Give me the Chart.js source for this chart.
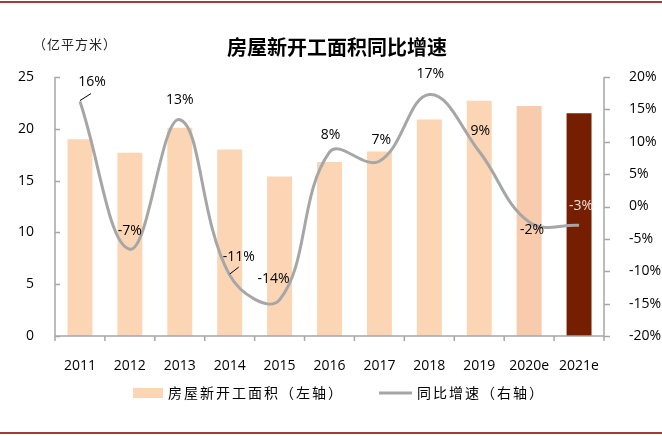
<!DOCTYPE html>
<html lang="zh">
<head>
<meta charset="UTF-8">
<title>房屋新开工面积同比增速</title>
<script src="https://cdn.jsdelivr.net/npm/chart.js"></script>
<style>
  body { margin: 0; background: #fff; }
  .wrap { width: 662px; height: 436px; position: relative; }
</style>
</head>
<body>
<div class="wrap"><canvas id="grafico"></canvas></div>
<script>
// dados
const categorias = ['2011', '2012', '2013', '2014', '2015', '2016', '2017', '2018', '2019', '2020e', '2021e'];
const areaNova = [19.0, 17.7, 20.1, 18.0, 15.4, 16.8, 17.8, 20.9, 22.7, 22.2, 21.5];   // 亿平方米
const crescimento = [16.2, -6.6, 13.4, -10.6, -14.4, 8.4, 7.0, 17.3, 8.5, -2.4, -2.9]; // %
const ticksEsq = [0, 5, 10, 15, 20, 25];
const ticksDir = [-20, -15, -10, -5, 0, 5, 10, 15, 20];

// estilo
const coresBarra = ['#FCD5B5', '#FCD5B5', '#FCD5B5', '#FCD5B5', '#FCD5B5', '#FCD5B5', '#FCD5B5', '#FCD5B5', '#FCD5B5', '#F8CBAD', '#751F00'];
const rotDx = [12, 0, 0, 9, -6, 1, 2, 1, 1, 3, 2];
const rotDy = [-20, -18, -20, -18, -21, -17, -21, -20, -20, 8, -19];
const corRot = ['#000', '#000', '#000', '#000', '#000', '#000', '#000', '#000', '#000', '#000', '#F2DDD8'];
const guias = { 0: [11, -7], 3: [9, -7] };
const cinzaEixo = '#A6A6A6';

Chart.defaults.font.family = "'Open Sans', sans-serif";
Chart.defaults.font.size = 14;
Chart.defaults.color = '#000';

const extras = {
  id: 'extras',
  beforeDraw(chart) {
    const ctx = chart.ctx;
    ctx.save();
    ctx.fillStyle = '#fff';
    ctx.fillRect(0, 0, chart.width, chart.height);
    ctx.fillStyle = '#9E3B3B';
    ctx.fillRect(0, 1, chart.width, 2);
    ctx.fillRect(0, 432, chart.width, 2);
    ctx.restore();
  },
  afterDraw(chart) {
    const ctx = chart.ctx;
    const a = chart.chartArea;
    const y = chart.scales.y, y1 = chart.scales.y1;
    ctx.save();
    // eixos
    ctx.strokeStyle = cinzaEixo;
    ctx.lineWidth = 1.5;
    ctx.beginPath();
    ctx.moveTo(a.left, a.top); ctx.lineTo(a.left, a.bottom);
    ctx.moveTo(a.right, a.top); ctx.lineTo(a.right, a.bottom);
    ctx.moveTo(a.left, a.bottom); ctx.lineTo(a.right, a.bottom);
    ticksEsq.forEach(v => {
      const py = Math.round(y.getPixelForValue(v)) + 0.5;
      ctx.moveTo(a.left, py); ctx.lineTo(a.left + 5, py);
    });
    ticksDir.forEach(v => {
      const py = Math.round(y1.getPixelForValue(v)) + 0.5;
      ctx.moveTo(a.right, py); ctx.lineTo(a.right + 6, py);
    });
    const passo = (a.right - a.left) / categorias.length;
    for (let i = 0; i <= categorias.length; i++) {
      const px = a.left + i * passo;
      ctx.moveTo(px, a.bottom); ctx.lineTo(px, a.bottom + 5);
    }
    ctx.stroke();

    // rótulos da linha
    const meta = chart.getDatasetMeta(1);
    ctx.font = "14px 'Open Sans', sans-serif";
    ctx.textAlign = 'center';
    ctx.textBaseline = 'middle';
    meta.data.forEach((pt, i) => {
      ctx.fillStyle = corRot[i];
      ctx.fillText(Math.round(crescimento[i]) + '%', pt.x + rotDx[i], pt.y + rotDy[i]);
      if (guias[i]) {
        ctx.strokeStyle = '#000';
        ctx.lineWidth = 1;
        ctx.beginPath();
        ctx.moveTo(pt.x, pt.y - 1);
        ctx.lineTo(pt.x + guias[i][0], pt.y - 1 + guias[i][1]);
        ctx.stroke();
      }
    });

    // título e unidade
    ctx.fillStyle = '#000';
    ctx.font = "bold 20px 'Noto Sans CJK SC', sans-serif";
    ctx.fillText('房屋新开工面积同比增速', 337, 47);
    ctx.fillStyle = '#222';
    ctx.font = "13px 'Noto Sans CJK SC', sans-serif";
    ctx.textAlign = 'left';
    ctx.letterSpacing = '1px';
    ctx.fillText('（亿平方米）', 33, 44);

    // legenda
    ctx.fillStyle = coresBarra[0];
    ctx.fillRect(133, 388, 30, 10);
    ctx.strokeStyle = cinzaEixo;
    ctx.lineWidth = 3;
    ctx.beginPath();
    ctx.moveTo(379, 393); ctx.lineTo(412, 393);
    ctx.stroke();
    ctx.fillStyle = '#000';
    ctx.font = "14px 'Noto Sans CJK SC', sans-serif";
    ctx.letterSpacing = '2px';
    ctx.fillText('房屋新开工面积（左轴）', 168, 393);
    ctx.fillText('同比增速（右轴）', 417, 393);
    ctx.restore();
  }
};

new Chart(document.getElementById('grafico'), {
  type: 'bar',
  data: {
    labels: categorias,
    datasets: [{
      type: 'bar',
      label: '房屋新开工面积（左轴）',
      data: areaNova,
      backgroundColor: coresBarra,
      barPercentage: 0.5,
      categoryPercentage: 1,
      yAxisID: 'y',
      order: 2
    }, {
      type: 'line',
      label: '同比增速（右轴）',
      data: crescimento,
      borderColor: cinzaEixo,
      borderWidth: 3,
      pointRadius: 0,
      tension: 0.4,
      fill: false,
      clip: false,
      yAxisID: 'y1',
      order: 1
    }]
  },
  options: {
    responsive: true,
    maintainAspectRatio: false,
    animation: false,
    layout: { padding: { top: 77, left: 0, right: 0, bottom: 0 } },
    plugins: { legend: { display: false }, tooltip: { enabled: false } },
    scales: {
      x: {
        grid: { display: false },
        border: { display: false },
        ticks: { padding: 14, maxRotation: 0 },
        afterFit(s) { s.height = 100; }
      },
      y: {
        position: 'left',
        min: 0, max: 25,
        grid: { display: false },
        border: { display: false },
        ticks: { stepSize: 5, padding: 13 },
        afterFit(s) { s.width = 55; }
      },
      y1: {
        position: 'right',
        min: -20, max: 20,
        grid: { display: false },
        border: { display: false },
        ticks: { stepSize: 5, padding: 17, callback: v => v + '%' },
        afterFit(s) { s.width = 58; }
      }
    }
  },
  plugins: [extras]
});
</script>
</body>
</html>
